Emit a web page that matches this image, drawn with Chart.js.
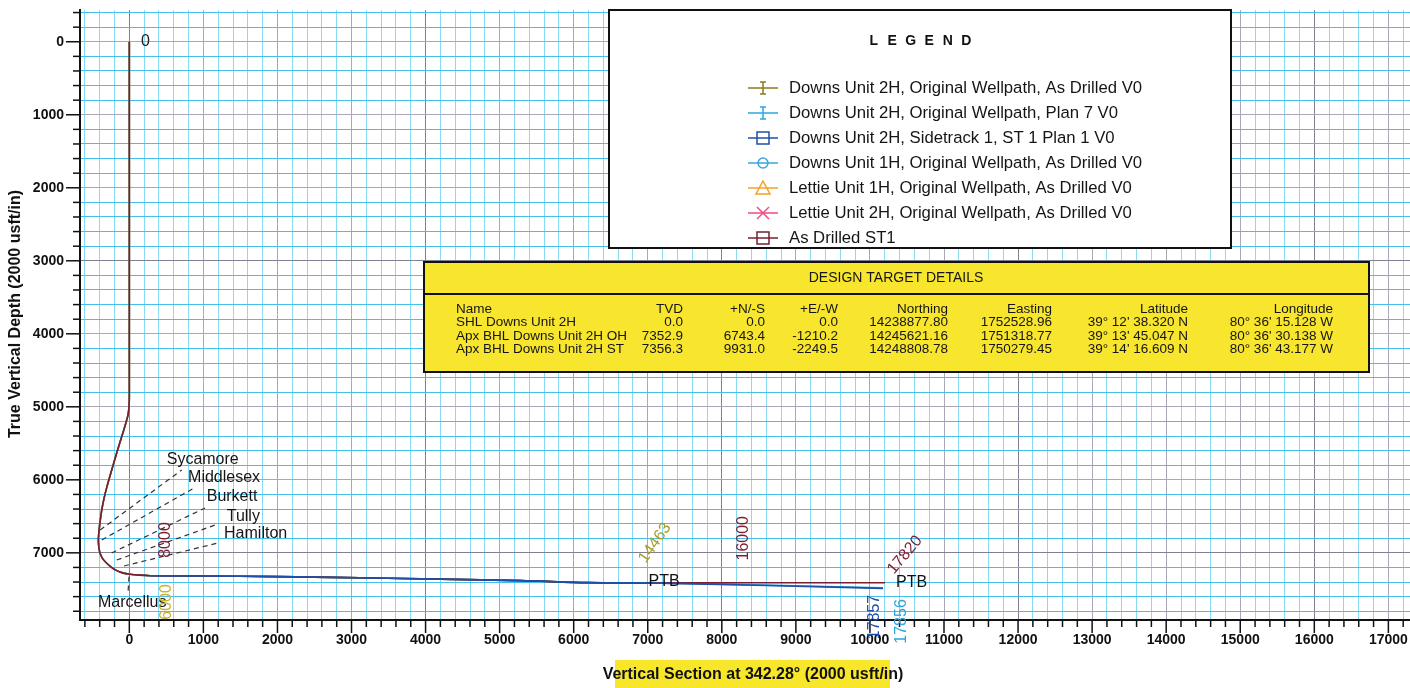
<!DOCTYPE html>
<html><head><meta charset="utf-8">
<script src="https://cdn.jsdelivr.net/npm/chart.js@4"></script>
<style>html,body{margin:0;padding:0;background:#fff;overflow:hidden}#c{display:block}</style>
</head><body>
<canvas id="c" width="1410" height="688"></canvas>
<script>
// ---------- DATA ----------
// shared well path: vertical hole + build section + start of lateral (Vertical Section, TVD)
const curveVS  = [0, 0, -2, -8, -20, -38, -58, -100, -155, -210, -262, -302, -343, -372, -393, -408, -418, -412, -396, -360, -305, -240, -170, -80, 9, 140, 280, 1000, 2000, 3486, 5284, 6189, 7000];
const curveTVD = [0, 4850, 4950, 5040, 5120, 5190, 5260, 5400, 5580, 5769, 5950, 6093, 6260, 6413, 6560, 6687, 6824, 6920, 7002, 7080, 7143, 7200, 7244, 7278, 7294, 7306, 7313, 7318, 7326, 7348, 7381, 7408, 7412];
const lateralStart = 26; // index in curve where the horizontal section begins
// laterals beyond VS 7000
const st1DrilledVS = [8300, 10204];  const st1DrilledTVD = [7410, 7410];
const st1PlanVS    = [8600, 10177];  const st1PlanTVD    = [7447, 7487];
const plan7VS      = [8600, 10177];  const plan7TVD      = [7442, 7480];

const legendLabels = [
  'Downs Unit 2H, Original Wellpath, As Drilled V0',
  'Downs Unit 2H, Original Wellpath, Plan 7 V0',
  'Downs Unit 2H, Sidetrack 1, ST 1 Plan 1 V0',
  'Downs Unit 1H, Original Wellpath, As Drilled V0',
  'Lettie Unit 1H, Original Wellpath, As Drilled V0',
  'Lettie Unit 2H, Original Wellpath, As Drilled V0',
  'As Drilled ST1'
];

// formation tops: name, well point (VS,TVD), line end (VS,TVD), label anchor (VS,TVD)
const formationNames = ['Sycamore', 'Middlesex', 'Burkett', 'Tully', 'Hamilton', 'Marcellus'];
const formWellVS  = [-394, -372, -238, -170, -72, -4];
const formWellTVD = [6687, 6824, 7002, 7098, 7180, 7326];
const formEndVS   = [708, 900, 1022, 1198, 1198, -18];
const formEndTVD  = [5865, 6098, 6386, 6605, 6865, 7550];
const formLabelVS  = [505, 793, 1045, 1315, 1279, -423];
const formLabelTVD = [5728, 5970, 6231, 6505, 6741, 7687];

// measured-depth labels
const mdText = ['0', '8000', '6000', '14463', '16000', '17820', '17857', '17856'];
const mdVS   = [159, 483, 505, 7098, 8290, 10474, 10068, 10429];
const mdTVD  = [0, 6824, 7673, 6865, 6800, 7029, 7879, 7940];

const ptbVS  = [7010, 10352];
const ptbTVD = [7399, 7408];

// design target table
const targetHeader = ['Name', 'TVD', '+N/-S', '+E/-W', 'Northing', 'Easting', 'Latitude', 'Longitude'];
const targetRows = [
  ['SHL Downs Unit 2H', '0.0', '0.0', '0.0', '14238877.80', '1752528.96', '39° 12\' 38.320 N', '80° 36\' 15.128 W'],
  ['Apx BHL Downs Unit 2H OH', '7352.9', '6743.4', '-1210.2', '14245621.16', '1751318.77', '39° 13\' 45.047 N', '80° 36\' 30.138 W'],
  ['Apx BHL Downs Unit 2H ST', '7356.3', '9931.0', '-2249.5', '14248808.78', '1750279.45', '39° 14\' 16.609 N', '80° 36\' 43.177 W']
];

// ---------- STYLE ----------
const C = {
  olive: '#8c7a1e', plan7: '#29a8df', st1: '#1f4fa8', u1h: '#3aa6dc',
  orange: '#f4a12a', pink: '#ec4b86', maroon: '#7a1e30'
};
const legendStyle = [
  [C.olive, 'ibeam'], [C.plan7, 'ibeam'], [C.st1, 'square'], [C.u1h, 'circle'],
  [C.orange, 'triangle'], [C.pink, 'cross'], [C.maroon, 'square']
];
const mdColor = ['#222', C.maroon, '#c8b230', '#a89a2a', C.maroon, C.maroon, C.st1, C.plan7];
const mdRot = [0, -90, -90, -55, -90, -50, -90, -90];
const FONT = '"Liberation Sans", Arial, Helvetica, sans-serif';

function pts(xs, ys) { return xs.map((v, i) => ({x: v, y: ys[i]})); }

const ds = (label, color, xs, ys) => ({
  label, data: pts(xs, ys), borderColor: color, backgroundColor: color,
  borderWidth: 1.6, pointRadius: 0, showLine: true, tension: 0.3, fill: false
});

// first entry is drawn on top
const datasets = [
  ds(legendLabels[2], C.st1, curveVS.slice(lateralStart).concat(st1PlanVS), curveTVD.slice(lateralStart).concat(st1PlanTVD)),
  ds(legendLabels[6], C.maroon, curveVS.concat(st1DrilledVS), curveTVD.concat(st1DrilledTVD)),
  ds(legendLabels[0], C.olive, curveVS, curveTVD),
  ds(legendLabels[1], C.plan7, curveVS.concat(plan7VS), curveTVD.concat(plan7TVD))
];

function stepTicks(s) {
  const t = [];
  for (let v = Math.ceil(s.min / 200) * 200; v <= s.max; v += 200) t.push({value: v});
  s.ticks = t;
}

const overlay = {
  id: 'overlay',
  afterDraw(chart) {
    const {ctx, chartArea: ca, scales: {x, y}} = chart;
    const X = v => x.getPixelForValue(v), Y = v => y.getPixelForValue(v);
    const line = (a, b, c, d) => { ctx.beginPath(); ctx.moveTo(a, b); ctx.lineTo(c, d); ctx.stroke(); };
    ctx.save();
    // axis tick marks
    ctx.strokeStyle = '#111'; ctx.lineWidth = 1.5;
    x.ticks.forEach(t => { const p = X(t.value); if (p < ca.left + 2) return; line(p, ca.bottom, p, ca.bottom + (t.value % 1000 === 0 ? 13 : 7)); });
    y.ticks.forEach(t => { const p = Y(t.value); if (p > ca.bottom - 2) return; line(ca.left, p, ca.left - (t.value % 1000 === 0 ? 14 : 7), p); });

    // formation dashed lines & labels
    ctx.strokeStyle = '#333'; ctx.lineWidth = 1.2; ctx.setLineDash([5, 4]);
    formationNames.forEach((n, i) => line(X(formWellVS[i]), Y(formWellTVD[i]), X(formEndVS[i]), Y(formEndTVD[i])));
    ctx.setLineDash([]);
    ctx.fillStyle = '#151515'; ctx.font = '16px ' + FONT; ctx.textAlign = 'left'; ctx.textBaseline = 'middle';
    formationNames.forEach((n, i) => ctx.fillText(n, X(formLabelVS[i]), Y(formLabelTVD[i])));

    // PTB labels
    ctx.font = '16px ' + FONT; ctx.fillStyle = '#111';
    ptbVS.forEach((v, i) => ctx.fillText('PTB', X(v), Y(ptbTVD[i])));

    // MD labels
    ctx.font = '16px ' + FONT;
    mdText.forEach((t, i) => {
      ctx.save();
      ctx.translate(X(mdVS[i]), Y(mdTVD[i]));
      ctx.rotate(mdRot[i] * Math.PI / 180);
      ctx.fillStyle = mdColor[i];
      ctx.textAlign = i === 0 ? 'left' : 'center'; ctx.textBaseline = 'middle';
      ctx.fillText(t, 0, 0);
      ctx.restore();
    });

    // legend box
    const lx = 609, ly = 10, lw = 622, lh = 238;
    ctx.fillStyle = '#fff'; ctx.fillRect(lx, ly, lw, lh);
    ctx.strokeStyle = '#111'; ctx.lineWidth = 2; ctx.strokeRect(lx, ly, lw, lh);
    ctx.fillStyle = '#111'; ctx.font = 'bold 14px ' + FONT; ctx.textAlign = 'center';
    const title = 'LEGEND'; const sp = 18.5; const tx0 = 920 - sp * (title.length - 1) / 2;
    [...title].forEach((ch, i) => ctx.fillText(ch, tx0 + i * sp, 41));
    ctx.font = '16.7px ' + FONT; ctx.textAlign = 'left';
    legendLabels.forEach((lab, i) => {
      const ry = 88 + i * 25, cx = 763;
      const [col, shape] = legendStyle[i];
      ctx.strokeStyle = col; ctx.lineWidth = 1.5;
      line(748, ry, 778, ry);
      if (shape === 'ibeam') { line(cx, ry - 6, cx, ry + 6); line(cx - 3, ry - 6, cx + 3, ry - 6); line(cx - 3, ry + 6, cx + 3, ry + 6); }
      else if (shape === 'square') { ctx.strokeRect(cx - 6, ry - 6, 12, 12); }
      else if (shape === 'circle') { ctx.beginPath(); ctx.arc(cx, ry, 5, 0, Math.PI * 2); ctx.stroke(); }
      else if (shape === 'triangle') { ctx.beginPath(); ctx.moveTo(cx, ry - 7); ctx.lineTo(cx + 7, ry + 6); ctx.lineTo(cx - 7, ry + 6); ctx.closePath(); ctx.stroke(); }
      else if (shape === 'cross') { line(cx - 6, ry - 6, cx + 6, ry + 6); line(cx - 6, ry + 6, cx + 6, ry - 6); }
      ctx.fillStyle = '#151515';
      ctx.fillText(lab, 789, ry);
    });

    // design target table
    const bx = 424, by = 262, bw = 945, bh = 110;
    ctx.fillStyle = '#f7e52e'; ctx.fillRect(bx, by, bw, bh);
    ctx.strokeStyle = '#111'; ctx.lineWidth = 2; ctx.strokeRect(bx, by, bw, bh);
    line(bx, 294, bx + bw, 294);
    ctx.fillStyle = '#151515'; ctx.font = '14px ' + FONT; ctx.textAlign = 'center';
    ctx.fillText('DESIGN TARGET DETAILS', 896, 278);
    ctx.font = '13.5px ' + FONT;
    const colX = [456, 683, 765, 838, 948, 1052, 1188, 1333];
    const rowY = [309, 322.5, 336, 349.5];
    [targetHeader].concat(targetRows).forEach((row, r) => {
      row.forEach((cell, c) => {
        ctx.textAlign = c === 0 ? 'left' : 'right';
        ctx.fillText(cell, colX[c], rowY[r]);
      });
    });

    // axis titles
    ctx.fillStyle = '#f7e62a'; ctx.fillRect(615, 660, 275, 28);
    ctx.fillStyle = '#111'; ctx.font = 'bold 16px ' + FONT; ctx.textAlign = 'center';
    ctx.fillText('Vertical Section at 342.28° (2000 usft/in)', 753, 675);
    ctx.save(); ctx.translate(16, 314); ctx.rotate(-Math.PI / 2);
    ctx.fillText('True Vertical Depth (2000 usft/in)', 0, 0);
    ctx.restore();
    ctx.restore();
  }
};

new Chart(document.getElementById('c'), {
  type: 'scatter',
  data: {datasets},
  options: {
    responsive: false, animation: false,
    layout: {padding: {top: 10, left: 0, right: 0, bottom: 0}},
    plugins: {legend: {display: false}, tooltip: {enabled: false}},
    scales: {
      x: {
        type: 'linear', position: 'bottom', min: -666, max: 17292,
        afterBuildTicks: stepTicks,
        afterFit: s => { s.height = 68; s.paddingLeft = 0; s.paddingRight = 0; },
        grid: {
          drawTicks: false, lineWidth: 1,
          color: c => { const v = c.tick ? c.tick.value : 1; return v % 4000 === 0 ? '#808092' : (v % 1000 === 0 ? '#a8a8b8' : '#86daf3'); }
        },
        border: {display: true, color: '#111', width: 2},
        ticks: {
          autoSkip: false, maxRotation: 0, padding: 12, color: '#111',
          font: {family: FONT, size: 14, weight: 'bold'},
          callback: v => (v % 1000 === 0 ? String(v) : '')
        }
      },
      y: {
        type: 'linear', reverse: true, min: -435, max: 7920,
        afterBuildTicks: stepTicks,
        afterFit: s => { s.width = 80; s.paddingTop = 0; s.paddingBottom = 0; },
        grid: {
          drawTicks: false, lineWidth: 1,
          color: c => { const v = c.tick ? c.tick.value : 1; return (v + 1000) % 4000 === 0 ? '#808092' : (v % 1000 === 0 ? '#a8a8b8' : '#45c0ec'); }
        },
        border: {display: true, color: '#111', width: 2},
        ticks: {
          autoSkip: false, padding: 16, color: '#111',
          font: {family: FONT, size: 14, weight: 'bold'},
          callback: v => (v % 1000 === 0 && v >= 0 ? String(v) : '')
        }
      }
    }
  },
  plugins: [overlay]
});
</script>
</body></html>
